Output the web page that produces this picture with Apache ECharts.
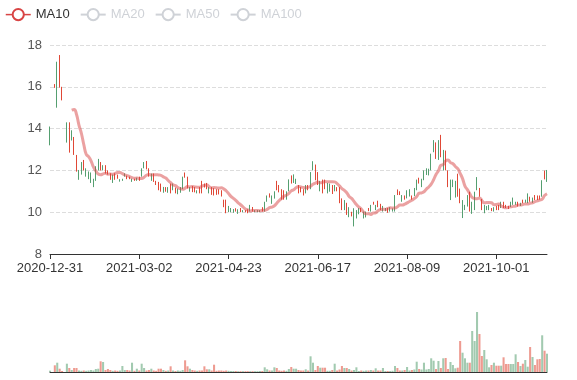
<!DOCTYPE html>
<html><head><meta charset="utf-8">
<script src="https://cdn.jsdelivr.net/npm/echarts@6/dist/echarts.min.js"></script>
<style>html,body{margin:0;padding:0;background:#fff}#c{width:577px;height:380px}</style>
</head><body><div id="c"></div>
<script>
const dates = [
"2020-12-31",
"2021-01-04","2021-01-05","2021-01-06","2021-01-07","2021-01-08",
"2021-01-11","2021-01-12","2021-01-13","2021-01-14","2021-01-15",
"2021-01-18","2021-01-19","2021-01-20","2021-01-21","2021-01-22",
"2021-01-25","2021-01-26","2021-01-27","2021-01-28","2021-01-29",
"2021-02-01","2021-02-02","2021-02-03","2021-02-04","2021-02-05",
"2021-02-08","2021-02-09","2021-02-10","2021-02-18","2021-02-19",
"2021-02-22","2021-02-23","2021-02-24","2021-02-25","2021-02-26",
"2021-03-01","2021-03-02","2021-03-03","2021-03-04","2021-03-05",
"2021-03-08","2021-03-09","2021-03-10","2021-03-11","2021-03-12",
"2021-03-15","2021-03-16","2021-03-17","2021-03-18","2021-03-19",
"2021-03-22","2021-03-23","2021-03-24","2021-03-25","2021-03-26",
"2021-03-29","2021-03-30","2021-03-31","2021-04-01","2021-04-02",
"2021-04-06","2021-04-07","2021-04-08","2021-04-09",
"2021-04-12","2021-04-13","2021-04-14","2021-04-15","2021-04-16",
"2021-04-19","2021-04-20","2021-04-21","2021-04-22","2021-04-23",
"2021-04-26","2021-04-27","2021-04-28","2021-04-29","2021-04-30",
"2021-05-05","2021-05-06","2021-05-07",
"2021-05-10","2021-05-11","2021-05-12","2021-05-13","2021-05-14",
"2021-05-17","2021-05-18","2021-05-19","2021-05-20","2021-05-21",
"2021-05-24","2021-05-25","2021-05-26","2021-05-27","2021-05-28",
"2021-05-31","2021-06-01","2021-06-02","2021-06-03","2021-06-04",
"2021-06-07","2021-06-08","2021-06-09","2021-06-10","2021-06-11",
"2021-06-14","2021-06-15","2021-06-16","2021-06-17","2021-06-18",
"2021-06-21","2021-06-22","2021-06-23","2021-06-24","2021-06-25",
"2021-06-28","2021-06-29","2021-06-30","2021-07-01","2021-07-02",
"2021-07-05","2021-07-06","2021-07-07","2021-07-08","2021-07-09",
"2021-07-12","2021-07-13","2021-07-14","2021-07-15","2021-07-16",
"2021-07-19","2021-07-20","2021-07-21","2021-07-22","2021-07-23",
"2021-07-26","2021-07-27","2021-07-28","2021-07-29","2021-07-30",
"2021-08-02","2021-08-03","2021-08-04","2021-08-05","2021-08-06",
"2021-08-09","2021-08-10","2021-08-11","2021-08-12","2021-08-13",
"2021-08-16","2021-08-17","2021-08-18","2021-08-19","2021-08-20",
"2021-08-23","2021-08-24","2021-08-25","2021-08-26","2021-08-27",
"2021-08-30","2021-08-31","2021-09-01","2021-09-02","2021-09-03",
"2021-09-06","2021-09-07","2021-09-08","2021-09-09","2021-09-10",
"2021-09-13","2021-09-14","2021-09-15","2021-09-16","2021-09-17",
"2021-09-22","2021-09-23","2021-09-24",
"2021-09-27","2021-09-28","2021-09-29","2021-09-30","2021-10-01",
"2021-10-04","2021-10-05","2021-10-06","2021-10-07","2021-10-08",
"2021-10-11","2021-10-12","2021-10-13","2021-10-14","2021-10-15",
"2021-10-18","2021-10-19","2021-10-20","2021-10-21","2021-10-22",
"2021-10-25","2021-10-26","2021-10-27","2021-10-28","2021-10-29",
"2021-11-01"
];
// [open, close, low, high]
const candles = [
[14.05,13.3,13.2,14.1],null,[15.97,16.1,15.95,16.13],[16.9,15.4,15.0,17.2],[16.0,17.3,15.96,17.52],
[15.4,15.95,15.35,16.0],null,[14.25,13.4,13.33,14.3],[12.95,14.2,12.85,14.3],[13.9,13.45,13.43,13.92],
[12.8,13.55,12.74,13.6],[12.0,12.7,11.94,12.74],[12.0,11.6,11.55,12.02],[12.35,11.85,11.8,12.4],[12.05,12.45,12.0,12.5],
[12.05,11.75,11.7,12.1],[11.92,11.6,11.58,11.95],[11.85,11.45,11.4,11.9],[11.55,11.25,11.2,11.6],[12.15,11.55,11.5,12.2],
[12.5,12.05,12.0,12.55],[12.05,12.35,12.0,12.4],[12.22,12.02,12.0,12.25],[11.9,12.2,11.85,12.25],[11.82,11.98,11.8,12.0],
[11.58,11.83,11.55,11.86],[11.78,11.45,11.4,11.8],[11.58,11.83,11.55,11.86],[11.62,11.78,11.6,11.8],[11.57,11.48,11.46,11.58],
[11.58,11.52,11.5,11.6],[11.84,11.72,11.7,11.86],[11.6,11.73,11.58,11.75],[11.6,11.68,11.58,11.7],[11.58,11.47,11.45,11.6],
[11.52,11.58,11.5,11.6],[11.63,11.52,11.5,11.65],[11.52,11.68,11.5,11.7],[12.05,11.75,11.7,12.1],[12.38,12.12,12.1,12.4],
[12.08,12.42,12.05,12.45],[11.72,12.08,11.7,12.1],[11.83,11.52,11.5,11.85],[11.48,11.82,11.45,11.85],[11.32,11.48,11.3,11.5],
[11.08,11.42,11.05,11.45],[11.0,11.35,10.98,11.37],[11.2,10.96,10.93,11.21],[11.0,11.18,10.98,11.2],[11.18,10.95,10.93,11.2],
[10.92,11.35,10.9,11.37],[11.35,11.07,11.05,11.37],[10.92,11.15,10.9,11.18],[11.12,10.88,10.86,11.13],[11.18,10.95,10.93,11.2],
[11.65,11.15,11.1,11.7],[11.67,11.88,11.65,11.9],[11.15,11.68,11.13,11.7],[11.18,11.0,10.98,11.2],[10.98,11.18,10.96,11.25],
[10.96,11.18,10.95,11.2],[11.04,10.92,10.9,11.05],[10.92,11.1,10.9,11.2],[10.92,11.45,10.9,11.5],[11.2,11.33,11.18,11.37],
[11.12,11.38,11.1,11.4],[11.18,10.92,10.9,11.2],[10.85,11.18,10.83,11.2],[10.82,11.12,10.8,11.15],[10.85,11.08,10.83,11.1],
[10.87,11.08,10.85,11.1],[10.77,11.03,10.75,11.05],[10.26,10.58,10.24,10.6],[9.97,10.55,9.95,10.6],[10.28,10.02,10.0,10.3],
[10.18,10.02,10.0,10.2],[10.14,9.99,9.97,10.15],[10.04,10.18,10.03,10.19],[10.13,9.94,9.92,10.14],[10.02,10.18,10.0,10.2],
[10.09,10.01,10.0,10.1],[10.01,10.09,10.0,10.1],[9.97,10.12,9.95,10.14],[10.33,10.05,10.03,10.35],[10.05,10.23,10.03,10.25],
[10.09,10.01,10.0,10.1],[10.08,10.02,10.0,10.1],[10.09,10.01,10.0,10.1],[10.05,10.22,10.03,10.24],[10.48,10.1,10.03,10.5],
[10.78,10.52,10.5,10.8],[10.72,10.88,10.7,10.9],[10.78,10.42,10.4,10.8],[10.98,10.67,10.65,11.0],[11.07,11.48,11.05,11.5],
[10.97,11.28,10.95,11.3],[10.62,11.08,10.6,11.1],[10.62,11.03,10.6,11.05],[10.98,10.62,10.6,11.0],[11.55,11.02,11.0,11.57],
[11.39,11.74,11.37,11.76],[11.79,11.42,11.4,11.81],[11.58,11.37,11.35,11.6],[10.92,11.28,10.9,11.3],[10.97,11.18,10.95,11.2],
[10.82,11.08,10.8,11.1],[11.28,10.92,10.9,11.3],[11.07,11.28,11.05,11.3],[11.9,11.12,11.1,11.92],[12.42,12.02,12.0,12.44],
[11.55,12.26,11.53,12.28],[11.32,11.9,11.3,11.92],[11.48,11.02,11.0,11.5],[10.92,11.54,10.9,11.56],[11.12,11.54,11.1,11.56],
[11.38,10.92,10.9,11.4],[11.35,11.0,10.98,11.37],[10.89,11.28,10.87,11.3],[11.28,11.02,11.0,11.3],[11.02,11.18,11.0,11.2],
[10.45,11.18,10.43,11.2],[10.12,10.64,10.1,10.66],[10.56,10.12,10.1,10.58],[9.89,10.43,9.87,10.45],[10.22,9.78,9.76,10.24],
[9.82,9.98,9.8,10.02],[10.17,9.6,9.32,10.19],[10.08,9.72,9.7,10.1],[10.18,9.92,9.9,10.2],[10.02,10.18,10.0,10.2],
[10.01,9.72,9.7,10.03],[10.01,9.77,9.75,10.03],[10.07,10.18,10.05,10.2],[10.33,10.05,10.03,10.35],[10.38,10.48,10.36,10.5],
[10.33,10.12,10.1,10.35],[10.26,10.53,10.24,10.55],[10.12,10.38,10.1,10.4],[10.28,10.05,10.03,10.3],[10.18,10.07,10.05,10.2],
[9.99,10.18,9.97,10.2],[10.22,10.05,10.03,10.24],[10.16,10.07,10.03,10.18],[10.8,10.05,10.03,10.82],[10.84,11.07,10.82,11.09],
[10.84,10.98,10.82,11.0],[10.8,10.52,10.5,10.82],[10.62,10.78,10.6,10.8],[11.03,10.68,10.66,11.05],[11.08,10.77,10.75,11.1],
[10.62,10.78,10.6,10.8],[11.14,10.79,10.77,11.16],[11.54,11.07,11.05,11.56],[11.39,11.63,11.37,11.65],[11.58,11.22,11.2,11.6],
[11.98,11.55,11.53,12.0],[12.08,11.8,11.78,12.1],[12.06,11.78,11.76,12.08],[12.78,12.02,12.0,12.8],[13.43,12.89,12.87,13.45],
[12.57,13.32,12.55,13.34],[13.43,12.52,12.5,13.45],[12.65,13.68,12.63,13.7],[12.96,12.02,12.0,12.98],[12.02,12.93,12.0,12.95],
[11.22,11.98,11.2,12.0],[11.54,10.6,10.58,11.56],[11.54,11.22,11.2,11.56],[11.48,10.72,10.7,11.5],[10.76,11.82,10.74,11.84],
[10.45,11.11,10.43,11.13],[10.56,10.0,9.72,10.58],[10.33,10.12,10.1,10.35],[10.8,10.29,10.27,10.82],[10.05,10.96,10.03,10.98],
[10.48,10.2,9.92,10.5],[10.96,10.12,10.1,10.98],[11.66,11.07,11.05,11.68],[10.76,11.14,10.74,11.16],[10.12,10.61,10.1,10.63],
[10.33,9.97,9.95,10.35],[10.28,10.12,10.1,10.3],[10.33,10.12,10.1,10.35],[10.07,10.18,10.05,10.2],[10.22,10.05,10.03,10.24],
[10.12,10.28,10.1,10.3],[10.12,10.33,10.1,10.35],[10.48,10.22,10.2,10.5],[10.22,10.48,10.2,10.5],[10.22,10.33,10.2,10.35],
[10.17,10.28,10.15,10.3],[10.48,10.27,10.25,10.5],[10.68,10.37,10.35,10.7],[10.48,10.37,10.35,10.5],[10.29,10.48,10.27,10.5],
[10.43,10.32,10.3,10.45],[10.45,10.58,10.43,10.6],[10.58,10.47,10.45,10.6],[10.88,10.45,10.43,10.9],[10.52,10.72,10.5,10.74],
[10.68,10.47,10.45,10.7],[10.6,10.8,10.58,10.82],[10.6,10.78,10.58,10.8],[10.62,10.78,10.6,10.8],[11.5,10.92,10.74,11.53],
[11.58,11.97,11.57,11.99],[12.0,11.47,11.45,12.02]
];
// volume (10k lots)
const volumes = [
1.3,null,6.7,9.3,3.3,1,null,8.3,4,2,4,4,1.5,1.2,1.5,1.2,1.5,2,1.5,3,3.3,10.7,10,2,3,2,1.2,1.5,1.2,1.5,6,2,2,1.5,9.3,
1.2,3.3,1.5,8.3,4,1.5,2,3.3,1.5,1.2,3.3,3.3,2,1.2,
1.5,5.7,1.5,1,1.5,1.2,2,11.7,5.7,3.3,2,1.5,1.2,1.5,1.5,5.7,2.7,2.7,1.5,7.3,1.2,1.5,1.5,1.2,1.5,1.2,1,1,1,0.8,0.8,0.8,0.8,0.8,0.8,0.8,0.8,
0.8,1,1,4.7,2.7,1.5,1.5,4.7,4,1.5,1.2,1.5,1.2,3,5,3.3,3.3,2,1.5,1.5,2.7,1.5,15.7,9.3,2,6,4.3,4.3,4.3,1.2,1.2,2,8.3,1.5,2.5,6,4,4,3,1.5,2,4.7,1,
1.5,1.2,1.5,1.5,2,1.5,3.7,1.5,1.5,4,1,1,1,
1.2,6,4,1.5,1.5,2,5,1.5,2,2.5,10.3,3,2.5,9.3,2.5,3,13.7,11.3,3,11,4,13.7,14,3,10,7,3.7,4.3,31,19.3,13.7,9.3,9.3,41,31,60,38,16,22,12.7,4.7,7,9.3,6.3,6.3,6.3,14.7,8,8,8,8,17.7,10,6,8.3,12,5.3,25,15,7,12.7,13,36.7,21.3,18.3
];
const maNames = ['MA10','MA20','MA50','MA100'];
const maDays = [10, 20, 50, 100];
const yTicks = {min: 8, max: 18, step: 2};

const upColor = '#e04836', downColor = '#559f70';

function calcMA(n) {
  const out = [];
  for (let i = 0; i < candles.length; i++) {
    if (i < n - 1) { out.push('-'); continue; }
    let s = 0, c = 0;
    for (let j = i - n + 1; j <= i; j++) { if (candles[j]) { s += candles[j][1]; c++; } }
    out.push(c ? +(s / c).toFixed(3) : '-');
  }
  return out;
}

const kData = candles.map(d => d ? d : ['-','-','-','-']);
const volData = volumes.map((v, i) => {
  if (v == null || !candles[i]) return '-';
  const up = candles[i][1] >= candles[i][0];
  return {value: v, itemStyle: {color: up ? upColor : downColor}};
});

const maColors = ['#d84444', '#5470c6', '#91cc75', '#fac858'];
const maSeries = maNames.map((name, k) => ({
  name, type: 'line', data: calcMA(maDays[k]), smooth: true,
  showSymbol: false, symbol: 'emptyCircle',
  itemStyle: {color: maColors[k]},
  lineStyle: {width: 3, opacity: 0.5}
}));

const chart = echarts.init(document.getElementById('c'), null, {renderer: 'canvas'});
chart.setOption({
  animation: false,
  textStyle: {fontFamily: 'Liberation Sans, Arial, sans-serif'},
  legend: {
    data: maNames, left: 0, top: 3, itemGap: 10,
    selected: {MA20: false, MA50: false, MA100: false},
    textStyle: {color: '#333', fontSize: 13},
    lineStyle: {opacity: 1, width: 1.5},
    itemStyle: {borderWidth: 1.5}
  },
  grid: [
    {left: 50, right: 30, top: 45, height: 209},
    {left: 50, right: 30, top: 312, height: 60}
  ],
  xAxis: [
    {type: 'category', data: dates, boundaryGap: false, gridIndex: 0,
     axisLine: {onZero: false, lineStyle: {color: '#333'}},
     axisTick: {interval: 36, lineStyle: {color: '#333'}},
     axisLabel: {interval: 36, color: '#333', fontSize: 13},
     splitLine: {show: false}},
    {type: 'category', data: dates, boundaryGap: false, gridIndex: 1,
     axisLine: {onZero: false, lineStyle: {color: '#333'}},
     axisTick: {show: false}, axisLabel: {show: false}, splitLine: {show: false}}
  ],
  yAxis: [
    {type: 'value', gridIndex: 0, min: yTicks.min, max: yTicks.max, interval: yTicks.step,
     axisLine: {show: false}, axisTick: {show: false},
     axisLabel: {color: '#555', fontSize: 13},
     splitLine: {lineStyle: {type: 'dashed', color: '#ddd'}}},
    {type: 'value', gridIndex: 1, min: 0, max: 60, show: false, splitLine: {show: false}}
  ],
  series: [
    {name: 'K', type: 'candlestick', data: kData, xAxisIndex: 0, yAxisIndex: 0,
     itemStyle: {color: upColor, color0: downColor, borderColor: upColor, borderColor0: downColor}},
    ...maSeries,
    {name: 'Volume', type: 'bar', data: volData, xAxisIndex: 1, yAxisIndex: 1,
     itemStyle: {opacity: 0.55}, barCategoryGap: '15%'}
  ]
});
</script>
</body></html>
